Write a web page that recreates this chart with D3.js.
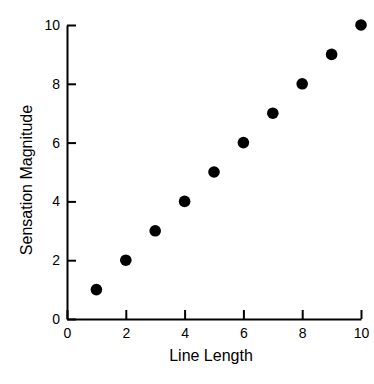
<!DOCTYPE html>
<html>
<head>
<meta charset="utf-8">
<script src="https://cdn.jsdelivr.net/npm/d3@7"></script>
<style>
  body { margin: 0; background: #fff; }
  svg { display: block; font-family: "Liberation Sans", Arial, sans-serif; }
</style>
</head>
<body>
<div id="chart"></div>
<script>
// values
const lineLength = [1, 2, 3, 4, 5, 6, 7, 8, 9, 10];
const sensation = [1, 2, 3, 4, 5, 6, 7, 8, 9, 10];
const xTicks = [0, 2, 4, 6, 8, 10];
const yTicks = [0, 2, 4, 6, 8, 10];

const width = 374, height = 384;
const plotLeft = 67, plotRight = 361, plotTop = 25, plotBottom = 319;

const svg = d3.select("#chart").append("svg")
  .attr("width", width)
  .attr("height", height);

const x = d3.scaleLinear().domain([0, 10]).range([plotLeft, plotRight]);
const y = d3.scaleLinear().domain([0, 10]).range([plotBottom, plotTop]);

// x axis, ticks point inward (up)
const xAxis = svg.append("g")
  .attr("transform", `translate(0,${plotBottom})`)
  .call(d3.axisBottom(x).tickValues(xTicks).tickSizeInner(-9).tickSizeOuter(0).tickPadding(9));
xAxis.select(".domain").attr("stroke", "#000").attr("stroke-width", 2);
xAxis.selectAll(".tick line").attr("stroke", "#000").attr("stroke-width", 2);
xAxis.selectAll(".tick text").style("font-size", "14px").attr("fill", "#000")
  .style("font-family", "Liberation Sans, Arial, sans-serif");

// y axis, ticks point inward (right)
const yAxis = svg.append("g")
  .attr("transform", `translate(${plotLeft},0)`)
  .call(d3.axisLeft(y).tickValues(yTicks).tickSizeInner(-9).tickSizeOuter(0).tickPadding(7));
yAxis.select(".domain").attr("stroke", "#000").attr("stroke-width", 2);
yAxis.selectAll(".tick line").attr("stroke", "#000").attr("stroke-width", 2);
yAxis.selectAll(".tick text").style("font-size", "14px").attr("fill", "#000")
  .style("font-family", "Liberation Sans, Arial, sans-serif");

// points
svg.append("g")
  .selectAll("circle")
  .data(lineLength)
  .enter().append("circle")
  .attr("cx", d => x(d))
  .attr("cy", (d, i) => y(sensation[i]))
  .attr("r", 5.8)
  .attr("fill", "#000");

// axis titles
svg.append("text")
  .attr("x", 211)
  .attr("y", 361)
  .attr("text-anchor", "middle")
  .attr("font-size", 16)
  .text("Line Length");

svg.append("text")
  .attr("transform", "translate(32,180) rotate(-90)")
  .attr("text-anchor", "middle")
  .attr("font-size", 16)
  .text("Sensation Magnitude");
</script>
</body>
</html>
